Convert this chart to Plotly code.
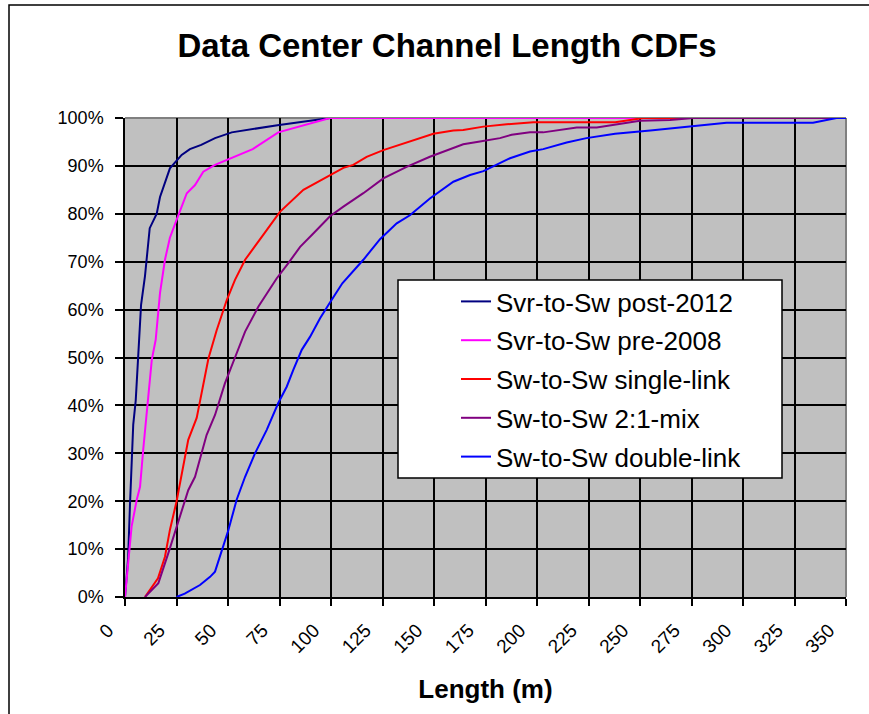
import plotly.graph_objects as go

# ---- data (length in m, cumulative %) ----
post2012_x = [0, 1.5, 2.4, 3.3, 4, 5.2, 6.8, 7.8, 9.7, 12, 15.4, 17, 21.8, 27.5, 31.5, 37, 43.7, 51.8, 74, 99.5, 350]
post2012_y = [0, 8, 19, 30, 36, 41, 54, 61, 67, 77, 80, 83.5, 89.5, 92.3, 93.5, 94.4, 95.8, 97, 98.5, 100, 100]

pre2008_x = [0, 2.4, 3.2, 5.7, 7.3, 8.9, 11.3, 13, 14.9, 17, 19.4, 21.8, 25, 30, 34, 38, 43.7, 51, 62, 74.4, 86.5, 99.5, 350]
pre2008_y = [0, 10, 14.7, 20.3, 23, 31, 41.5, 49.5, 53.7, 63.5, 70.4, 75, 78.7, 84.3, 86, 88.8, 90.2, 91.5, 93.5, 97, 98.5, 100, 100]

single_x = [9.7, 16, 19.4, 21.8, 25, 30.7, 34.8, 40.5, 44.5, 49.4, 53.4, 58.3, 67.1, 75.2, 86.6, 99.5, 106, 110.8, 117.3,
            125.4, 138.3, 149.7, 159.4, 164.2, 174, 185.3, 198.2, 238, 251.6, 350]
single_y = [0, 3.9, 8.4, 14, 19.9, 32.8, 37.4, 49.8, 55.7, 62, 66.2, 70.4, 75.6, 80.4, 85, 88.1, 89.6, 90.2, 91.9,
            93.3, 95.1, 96.7, 97.4, 97.5, 98.2, 98.7, 99.1, 99.1, 100, 100]

mix_x = [9.7, 16.2, 21, 25, 30.7, 34, 39.6, 43.7, 48.5, 53.4, 58.3, 64.7, 73.6, 79.3, 85, 91.4, 99.5, 106, 115.7, 125.4,
         136.7, 148, 156.2, 164.2, 172.3, 182, 187.7, 196.6, 203, 219.3, 229, 250, 264.6, 275.9, 350]
mix_y = [0, 2.9, 9.1, 14.7, 22.3, 25.1, 33.8, 38, 44.6, 50, 55.4, 60.6, 66.5, 69.7, 73.1, 75.9, 79.5, 81.5, 84.3, 87.4,
         89.8, 91.9, 93.3, 94.5, 95.1, 95.8, 96.5, 97, 97, 98, 98, 99.4, 99.6, 100, 100]

double_x = [25, 29, 36.4, 41.3, 43.7, 46.1, 50.2, 54.2, 58.3, 63.1, 68.8, 74.4, 78.5, 81.7, 85.8, 89.8, 94.7, 99.5, 105.5,
            115.7, 123.8, 131.9, 138.3, 148, 159.4, 167.5, 174, 186.9, 196.6, 203, 214.4, 224, 237.9, 255, 274.3, 292,
            334, 345.4, 350]
double_y = [0, 0.7, 2.5, 4.2, 5.3, 8.4, 14, 20.3, 25.1, 30, 34.9, 40.5, 43.9, 47.4, 51.6, 54.3, 58.2, 61.5, 65.5,
            70.4, 74.7, 78, 79.7, 83.2, 86.7, 88.1, 88.9, 91.6, 93, 93.5, 94.9, 95.8, 96.7, 97.4, 98.3, 99,
            99, 100, 100]

series = [
    ("Svr-to-Sw post-2012", post2012_x, post2012_y, "#000080"),
    ("Svr-to-Sw pre-2008", pre2008_x, pre2008_y, "#FF00FF"),
    ("Sw-to-Sw single-link", single_x, single_y, "#FF0000"),
    ("Sw-to-Sw 2:1-mix", mix_x, mix_y, "#800080"),
    ("Sw-to-Sw double-link", double_x, double_y, "#0000FF"),
]

x_ticks = list(range(0, 351, 25))
y_ticks = list(range(0, 101, 10))

FONT = "Arial, 'Liberation Sans', sans-serif"

fig = go.Figure()
for i, (name, xs, ys, col) in enumerate(series):
    fig.add_trace(go.Scatter(x=xs, y=ys, mode="lines", name=name,
                             line=dict(color=col, width=2),
                             legendgroup=f"g{i}"))

W, H = 869, 714
L, R, T, B = 125, 23, 118, 117
pw, ph = W - L - R, H - T - B

def px_x(p):
    return (p - L) / pw

def px_y(p):
    return (H - B - p) / ph

fig.update_layout(
    width=W, height=H,
    margin=dict(l=L, r=R, t=T, b=B, autoexpand=False),
    paper_bgcolor="white",
    plot_bgcolor="#C0C0C0",
    font=dict(family=FONT, color="black", size=17),
    title=dict(text="<b>Data Center Channel Length CDFs</b>", x=447 / W,
               xanchor="center", y=1 - 45 / H, yanchor="middle",
               font=dict(size=33, family=FONT, color="black")),
    showlegend=True,
    legend=dict(x=px_x(456), y=px_y(278), xanchor="left", yanchor="top",
                bgcolor="rgba(0,0,0,0)", borderwidth=0,
                font=dict(size=26, family=FONT, color="black"),
                tracegroupgap=2, traceorder="grouped"),
    xaxis=dict(range=[0, 350], tickvals=x_ticks, ticktext=[str(v) for v in x_ticks],
               tickangle=-45, showgrid=True, gridcolor="black", gridwidth=1.5,
               showline=True, linecolor="black", linewidth=1.5,
               ticks="outside", ticklen=7, tickcolor="black", tickwidth=1.5,
               tickfont=dict(size=19, family=FONT, color="black"),
               ticklabelstandoff=6, ticklabelshift=-17,
               zeroline=False, fixedrange=True,
               title=dict(text="<b>Length (m)</b>", font=dict(size=26, family=FONT, color="black"),
                          standoff=24)),
    yaxis=dict(range=[0, 100], tickvals=y_ticks, ticktext=[f"{v}%" for v in y_ticks],
               showgrid=True, gridcolor="black", gridwidth=1.5,
               showline=True, linecolor="black", linewidth=1.5,
               ticks="outside", ticklen=8, tickcolor="black", tickwidth=1.5,
               tickfont=dict(size=18, family=FONT, color="black"),
               ticklabelstandoff=8,
               zeroline=False, fixedrange=True),
    shapes=[
        # plot-area border (top & right, gray)
        dict(type="line", xref="paper", yref="paper", x0=0, x1=1, y0=1, y1=1,
             line=dict(color="#808080", width=2), layer="below"),
        dict(type="line", xref="paper", yref="paper", x0=1, x1=1, y0=0, y1=1,
             line=dict(color="#808080", width=2), layer="below"),
        # legend box
        dict(type="rect", xref="paper", yref="paper",
             x0=px_x(398), x1=px_x(782), y0=px_y(478), y1=px_y(280),
             fillcolor="white", line=dict(color="black", width=1.5), layer="above"),
        # outer chart border
        dict(type="rect", xref="paper", yref="paper",
             x0=px_x(9), x1=px_x(880), y0=px_y(730), y1=px_y(5),
             fillcolor="rgba(0,0,0,0)", line=dict(color="black", width=1.5), layer="above"),
    ],
)

fig.write_html("out.html",
               config={"displayModeBar": False},
               post_script="document.body.style.margin='0';document.body.style.padding='0';")
